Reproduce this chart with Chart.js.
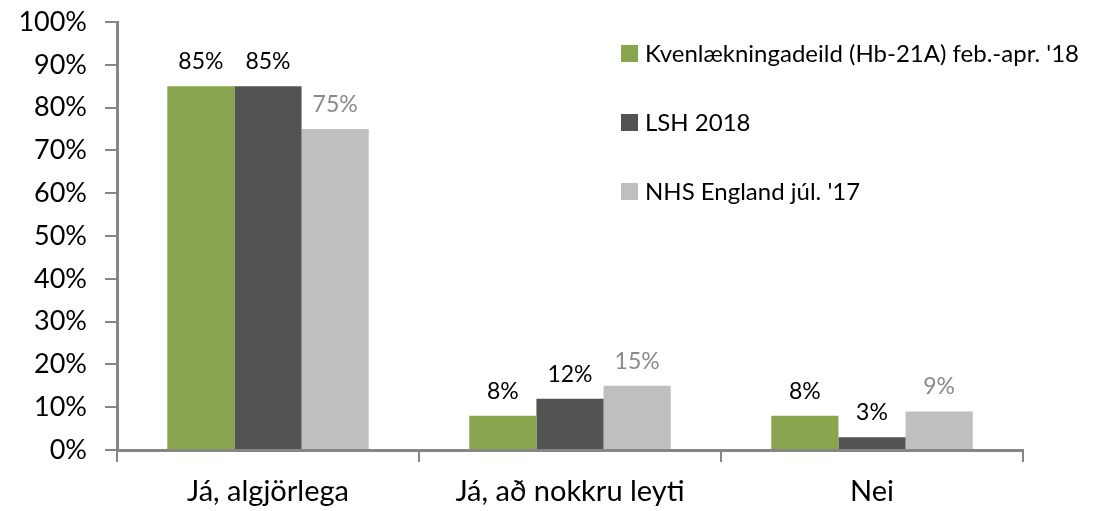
<!DOCTYPE html>
<html>
<head>
<meta charset="utf-8">
<script src="https://cdn.jsdelivr.net/npm/chart.js@4/dist/chart.umd.min.js"></script>
<style>
  html, body { margin: 0; padding: 0; background: #fff; }
  #wrap { width: 1100px; height: 511px; }
</style>
</head>
<body>
<div id="wrap"><canvas id="chart"></canvas></div>
<script>
const categories = ['Já, algjörlega', 'Já, að nokkru leyti', 'Nei'];
const seriesNames = ["Kvenlækningadeild (Hb-21A) feb.-apr. '18", 'LSH 2018', "NHS England júl. '17"];
const kvenValues = [85, 8, 8];
const lshValues = [85, 12, 3];
const nhsValues = [75, 15, 9];

const barColors = ['#89a54e', '#535353', '#bfbfbf'];
const labelColors = ['#000000', '#000000', '#8a8a8a'];
const FONT = 'Lato, "Open Sans", sans-serif';

// value labels above each bar
const valueLabels = {
  id: 'valueLabels',
  afterDatasetsDraw(chart) {
    const ctx = chart.ctx;
    ctx.save();
    ctx.font = '23px ' + FONT;
    ctx.textAlign = 'center';
    ctx.textBaseline = 'bottom';
    chart.data.datasets.forEach((ds, i) => {
      chart.getDatasetMeta(i).data.forEach((bar, j) => {
        ctx.fillStyle = labelColors[i];
        ctx.fillText(Math.round(ds.data[j]) + '%', bar.x, bar.y - 13);
      });
    });
    ctx.restore();
  }
};

// legend sits inside the plot, stacked at the upper right
const sideLegend = {
  id: 'sideLegend',
  afterDraw(chart) {
    const ctx = chart.ctx;
    ctx.save();
    ctx.font = '24px ' + FONT;
    ctx.textBaseline = 'middle';
    chart.data.datasets.forEach((ds, i) => {
      const y = 53 + i * 69;
      ctx.fillStyle = ds.backgroundColor;
      ctx.fillRect(621, y - 8, 17, 17);
      ctx.fillStyle = '#000';
      ctx.fillText(ds.label, 645, y + 1);
    });
    ctx.restore();
  }
};

new Chart(document.getElementById('chart'), {
  type: 'bar',
  data: {
    labels: categories,
    datasets: [
      { label: seriesNames[0], data: kvenValues, backgroundColor: barColors[0] },
      { label: seriesNames[1], data: lshValues, backgroundColor: barColors[1] },
      { label: seriesNames[2], data: nhsValues, backgroundColor: barColors[2] }
    ]
  },
  options: {
    responsive: true,
    maintainAspectRatio: false,
    animation: false,
    categoryPercentage: 0.667,
    barPercentage: 1.0,
    layout: { padding: { top: 22, right: 77, bottom: 0, left: 0 } },
    plugins: {
      legend: { display: false },
      tooltip: { enabled: false }
    },
    scales: {
      x: {
        grid: {
          display: true,
          offset: true,
          drawOnChartArea: false,
          drawTicks: true,
          tickLength: 12,
          color: '#868686',
          lineWidth: 2
        },
        border: { color: '#868686', width: 3 },
        ticks: { color: '#000', font: { family: FONT, size: 29 }, padding: 12 },
        afterFit(scale) { scale.height = 61; }
      },
      y: {
        min: 0,
        max: 100,
        grid: {
          display: true,
          drawOnChartArea: false,
          drawTicks: true,
          tickLength: 12,
          color: '#868686',
          lineWidth: 2
        },
        border: { color: '#868686', width: 3 },
        ticks: {
          stepSize: 10,
          color: '#000',
          font: { family: FONT, size: 27 },
          padding: 18,
          callback: v => v + '%'
        },
        afterFit(scale) {
          scale.width = 117;
          scale.paddingTop = 0;
          scale.paddingBottom = 0;
        }
      }
    }
  },
  plugins: [valueLabels, sideLegend]
});
</script>
</body>
</html>
